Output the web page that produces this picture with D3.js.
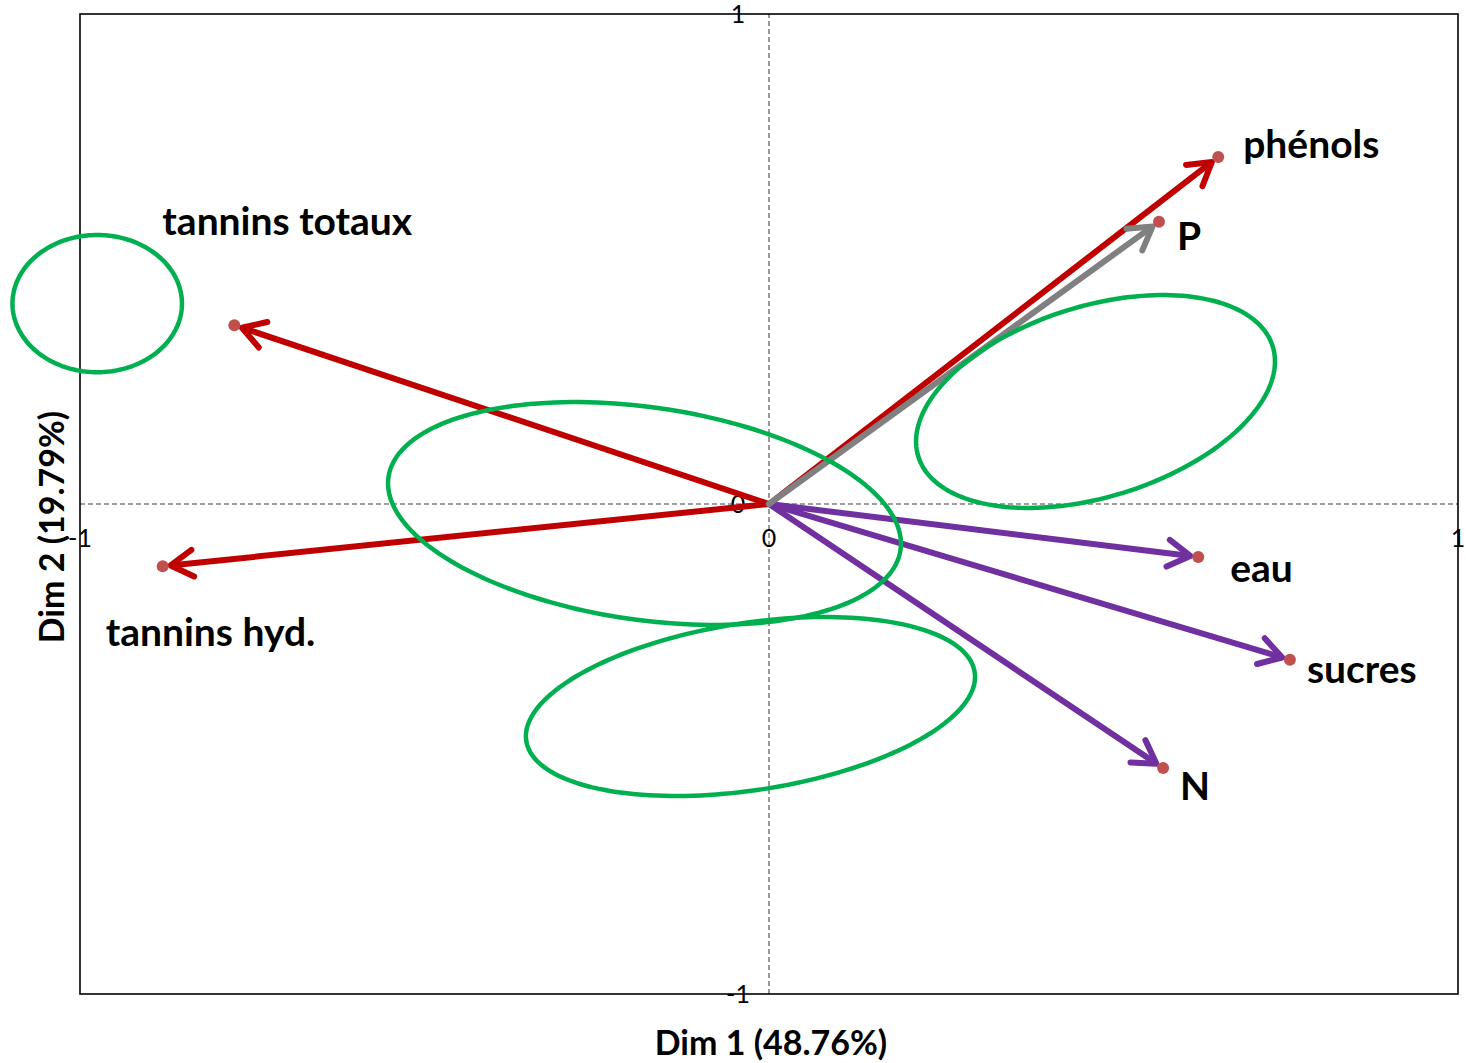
<!DOCTYPE html>
<html>
<head>
<meta charset="utf-8">
<script src="https://cdn.jsdelivr.net/npm/d3@7"></script>
<style>
  html, body { margin: 0; padding: 0; background: #ffffff; }
  svg { display: block; }
</style>
</head>
<body>
<svg id="chart" width="1466" height="1063"></svg>
<script>
// Correlation circle: variables projected on the first two dimensions
const variables = ["phénols", "P", "tannins totaux", "tannins hyd.", "eau", "sucres", "N"];
const dim1 = [0.652, 0.566, -0.776, -0.880, 0.623, 0.756, 0.572];
const dim2 = [0.708, 0.576, 0.365, -0.127, -0.108, -0.318, -0.539];
const groups = ["rouge", "gris", "rouge", "rouge", "violet", "violet", "violet"];

// Ellipses (data units): centre and two conjugate semi-axis vectors
const ellipseCx = [-0.975, -0.1807, 0.4739, -0.0269];
const ellipseCy = [0.409, -0.0194, 0.2092, -0.4133];
const ellipseU = [[0.123, 0], [0.3716, -0.0743], [0.2572, 0.1124], [0.3254, 0.0702]];
const ellipseV = [[0, 0.140], [-0.0218, -0.2149], [0.0411, -0.1859], [0.0184, -0.1686]];

const xTicks = [-1, 0, 1];
const yTicks = [-1, 0, 1];
const xTitle = "Dim 1 (48.76%)";
const yTitle = "Dim 2 (19.79%)";

// Layout and style
const plot = { left: 80, right: 1458, top: 14, bottom: 994 };
const colors = { rouge: "#c00000", gris: "#808080", violet: "#7030a0" };
const labelOffsets = [[25, 1], [18, 28], [-72, -90], [-57, 80], [32, 25], [17, 23], [17, 32]];

const svg = d3.select("#chart");
const x = d3.scaleLinear().domain([-1, 1]).range([plot.left, plot.right]);
const y = d3.scaleLinear().domain([-1, 1]).range([plot.bottom, plot.top]);

const font = "Lato, 'Open Sans', sans-serif";

// Dashed reference lines through the origin
svg.append("line")
  .attr("x1", x(-1)).attr("x2", x(1)).attr("y1", y(0)).attr("y2", y(0))
  .attr("stroke", "#808080").attr("stroke-width", 1.6).attr("stroke-dasharray", "5,3");
svg.append("line")
  .attr("x1", x(0)).attr("x2", x(0)).attr("y1", y(-1)).attr("y2", y(1))
  .attr("stroke", "#808080").attr("stroke-width", 1.6).attr("stroke-dasharray", "5,3");

// Tick labels along the centred axes
svg.append("g").selectAll("text").data(xTicks).join("text")
  .attr("x", d => x(d)).attr("y", y(0) + 43)
  .attr("text-anchor", "middle")
  .attr("font-family", font).attr("font-size", 25).attr("fill", "#000")
  .text(d => d);
svg.append("g").selectAll("text").data(yTicks).join("text")
  .attr("x", x(0) - 31).attr("y", d => y(d) + 9)
  .attr("text-anchor", "middle")
  .attr("font-family", font).attr("font-size", 25).attr("fill", "#000")
  .text(d => d);

// Frame
svg.append("rect")
  .attr("x", plot.left).attr("y", plot.top)
  .attr("width", plot.right - plot.left).attr("height", plot.bottom - plot.top)
  .attr("fill", "none").attr("stroke", "#000").attr("stroke-width", 1.6);

// Arrows from the origin towards each variable
const data = variables.map((name, i) => ({
  name, x: dim1[i], y: dim2[i], color: colors[groups[i]], off: labelOffsets[i]
}));

const arrows = svg.append("g");
// grey drawn last so it sits above its red neighbour
const order = data.slice().sort((a, b) => (a.color === colors.gris) - (b.color === colors.gris));
order.forEach(d => {
  const x0 = x(0), y0 = y(0);
  const x1 = x(d.x), y1 = y(d.y);
  const dx = x1 - x0, dy = y1 - y0;
  const len = Math.hypot(dx, dy);
  const ux = dx / len, uy = dy / len;
  const tx = x1 - ux * 8, ty = y1 - uy * 8;
  const head = 26, ang = Math.PI / 5.8;
  const a1 = Math.atan2(uy, ux) + Math.PI - ang;
  const a2 = Math.atan2(uy, ux) + Math.PI + ang;
  const g = arrows.append("g")
    .attr("stroke", d.color).attr("stroke-width", 6)
    .attr("stroke-linecap", "round").attr("stroke-linejoin", "round").attr("fill", "none");
  g.append("line").attr("x1", x0).attr("y1", y0).attr("x2", tx - ux * 2).attr("y2", ty - uy * 2);
  g.append("path").attr("d",
    `M${tx + head * Math.cos(a1)},${ty + head * Math.sin(a1)} L${tx},${ty} L${tx + head * Math.cos(a2)},${ty + head * Math.sin(a2)}`);
});

// Variable end points
svg.append("g").selectAll("circle").data(data).join("circle")
  .attr("cx", d => x(d.x)).attr("cy", d => y(d.y)).attr("r", 6)
  .attr("fill", "#c0504d");

// Group ellipses
const ellipseLine = d3.line().curve(d3.curveLinearClosed);
const tSteps = d3.range(0, 2 * Math.PI, Math.PI / 90);
svg.append("g").selectAll("path").data(ellipseCx.map((cx, i) => i)).join("path")
  .attr("d", i => ellipseLine(tSteps.map(t => [
    x(ellipseCx[i] + ellipseU[i][0] * Math.cos(t) + ellipseV[i][0] * Math.sin(t)),
    y(ellipseCy[i] + ellipseU[i][1] * Math.cos(t) + ellipseV[i][1] * Math.sin(t))
  ])))
  .attr("fill", "none").attr("stroke", "#00b050").attr("stroke-width", 4.5);

// Variable labels
svg.append("g").selectAll("text").data(data).join("text")
  .attr("x", d => x(d.x) + d.off[0]).attr("y", d => y(d.y) + d.off[1])
  .attr("font-family", font).attr("font-weight", "bold").attr("font-size", 39)
  .attr("fill", "#000")
  .text(d => d.name);

// Axis titles
svg.append("text")
  .attr("x", (plot.left + plot.right) / 2 + 2).attr("y", 1055)
  .attr("text-anchor", "middle")
  .attr("font-family", font).attr("font-weight", "bold").attr("font-size", 34)
  .text(xTitle);
svg.append("text")
  .attr("transform", `translate(64, ${y(0) + 23}) rotate(-90)`)
  .attr("text-anchor", "middle")
  .attr("font-family", font).attr("font-weight", "bold").attr("font-size", 34)
  .text(yTitle);
</script>
</body>
</html>
